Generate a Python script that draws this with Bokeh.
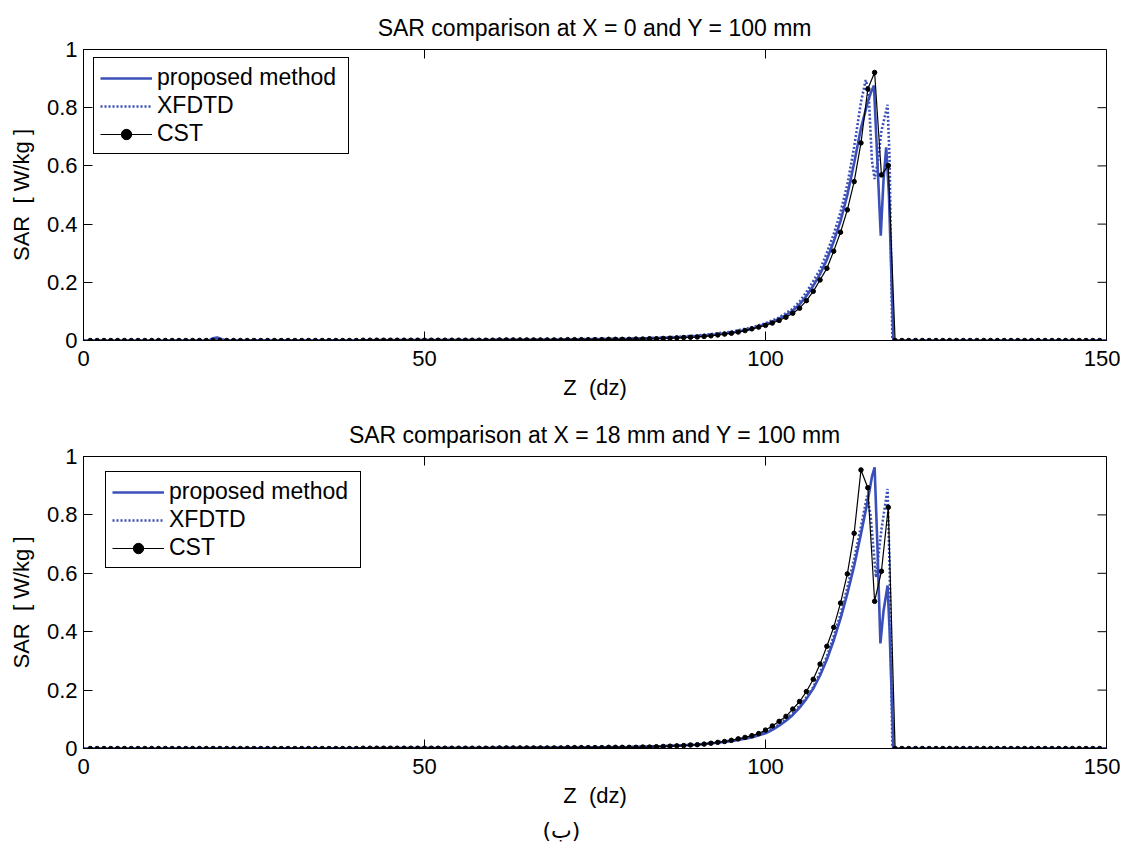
from bokeh.plotting import figure
from bokeh.models import (FixedTicker, NumeralTickFormatter, Legend,
                          LegendItem, Title, Range1d)
from bokeh.layouts import column
from bokeh.embed import file_html
from bokeh.resources import INLINE

# ---------------- data ----------------
x_ticks = [0, 50, 100, 150]
y_ticks = [0, 0.2, 0.4, 0.6, 0.8, 1]
x_lim = [0, 150]
y_lim = [0, 1]

titles = ["SAR comparison at X = 0 and Y = 100 mm",
          "SAR comparison at X = 18 mm and Y = 100 mm"]
x_label = "Z\u00a0\u00a0(dz)"
y_label = "SAR\u00a0\u00a0[ W/kg ]"
caption = "(ب)"
series_names = ["proposed method", "XFDTD", "CST"]

# CST sampled at every cell z = 1..149
cst_z = list(range(1, 150))

cst_top = [
    0, 0, 0, 0, 0, 0, 0, 0, 0, 0,
    0, 0, 0, 0, 0, 0, 0, 0, 0, 0,
    0, 0, 0, 0, 0, 0, 0, 0, 0, 0,
    0, 0, 0, 0, 0, 0, 0, 0, 0, 0,
    0.001, 0.001, 0.001, 0.001, 0.001, 0.001, 0.001, 0.001, 0.001, 0.001,
    0.001, 0.001, 0.001, 0.001, 0.001, 0.001, 0.001, 0.001, 0.001, 0.001,
    0.002, 0.002, 0.002, 0.002, 0.002, 0.002, 0.002, 0.002, 0.002, 0.002,
    0.003, 0.003, 0.003, 0.003, 0.003, 0.003, 0.004, 0.004, 0.004, 0.004,
    0.005, 0.005, 0.006, 0.006,
    0.007, 0.008, 0.009, 0.010, 0.011, 0.012, 0.014, 0.016, 0.019, 0.022,
    0.025, 0.029, 0.034, 0.040, 0.046, 0.052, 0.060, 0.069, 0.080, 0.094,
    0.111, 0.137, 0.169, 0.208, 0.248, 0.307, 0.372, 0.449, 0.546, 0.679,
    0.864, 0.921, 0.569, 0.601,
    0, 0, 0, 0, 0, 0, 0, 0, 0, 0,
    0, 0, 0, 0, 0, 0, 0, 0, 0, 0,
    0, 0, 0, 0, 0, 0, 0, 0, 0, 0, 0,
]

cst_bot = [
    0, 0, 0, 0, 0, 0, 0, 0, 0, 0,
    0, 0, 0, 0, 0, 0, 0, 0, 0, 0,
    0, 0, 0, 0, 0, 0, 0, 0, 0, 0,
    0, 0, 0, 0, 0, 0, 0, 0, 0, 0,
    0.001, 0.001, 0.001, 0.001, 0.001, 0.001, 0.001, 0.001, 0.001, 0.001,
    0.001, 0.001, 0.001, 0.001, 0.001, 0.001, 0.001, 0.001, 0.001, 0.001,
    0.002, 0.002, 0.002, 0.002, 0.002, 0.002, 0.002, 0.002, 0.002, 0.002,
    0.003, 0.003, 0.003, 0.003, 0.003, 0.003, 0.004, 0.004, 0.004, 0.004,
    0.004, 0.005, 0.005, 0.006,
    0.007, 0.008, 0.009, 0.010, 0.012, 0.013, 0.015, 0.018, 0.021, 0.024,
    0.028, 0.033, 0.038, 0.044, 0.051, 0.063, 0.077, 0.093, 0.110, 0.135,
    0.161, 0.195, 0.237, 0.289, 0.350, 0.415, 0.498, 0.598, 0.737, 0.954,
    0.893, 0.504, 0.607, 0.826,
    0, 0, 0, 0, 0, 0, 0, 0, 0, 0,
    0, 0, 0, 0, 0, 0, 0, 0, 0, 0,
    0, 0, 0, 0, 0, 0, 0, 0, 0, 0, 0,
]

# proposed method (fine grid) - top panel
prop_top_z = [0, 18.4, 19.0, 19.6, 20.3, 21.0, 40, 60, 70, 80, 85, 88, 90, 92, 94,
              96, 98, 100, 101, 102, 103, 104, 105, 106, 107, 108, 109, 110, 111,
              112, 113, 114, 115, 115.5, 115.9, 116.4, 116.9, 117.3, 117.7, 118.1,
              118.75, 150]
prop_top_v = [0, 0, 0.008, 0.010, 0.004, 0.001, 0.001, 0.002, 0.003, 0.006, 0.009,
              0.012, 0.015, 0.019, 0.024, 0.031, 0.040, 0.056, 0.064, 0.075, 0.087,
              0.103, 0.124, 0.153, 0.188, 0.228, 0.278, 0.340, 0.410, 0.500, 0.610,
              0.730, 0.820, 0.855, 0.876, 0.620, 0.360, 0.550, 0.664, 0.500, 0.0, 0.0]

# XFDTD - top panel
xfd_top_z = [0, 40, 60, 80, 85, 90, 95, 98, 100, 102, 104, 105, 106, 107, 108, 109,
             110, 111, 112, 113, 114, 114.7, 115.1, 115.6, 116.0, 116.5, 117.0,
             117.9, 118.2, 118.6, 150]
xfd_top_v = [0, 0.001, 0.002, 0.006, 0.010, 0.017, 0.030, 0.045, 0.059, 0.079, 0.109,
             0.134, 0.166, 0.204, 0.244, 0.301, 0.365, 0.441, 0.536, 0.665, 0.820,
             0.895, 0.860, 0.620, 0.555, 0.620, 0.720, 0.810, 0.620, 0.0, 0.0]

# proposed method - bottom panel
prop_bot_z = [0, 40, 60, 80, 85, 90, 95, 98, 100, 101, 102, 103, 104, 105, 106, 107,
              108, 109, 110, 111, 112, 113, 114, 115, 115.6, 116.0, 116.4, 116.85,
              117.3, 117.9, 118.2, 118.75, 150]
prop_bot_v = [0, 0.001, 0.002, 0.005, 0.008, 0.013, 0.025, 0.038, 0.052, 0.064, 0.078,
              0.095, 0.115, 0.140, 0.170, 0.205, 0.250, 0.305, 0.370, 0.445, 0.530,
              0.625, 0.735, 0.850, 0.930, 0.963, 0.700, 0.360, 0.470, 0.558, 0.400,
              0.0, 0.0]

# XFDTD - bottom panel
xfd_bot_z = [0, 40, 60, 80, 85, 90, 95, 98, 100, 102, 104, 106, 107, 108, 109, 110,
             111, 112, 113, 114, 114.9, 115.4, 116.2, 117.0, 117.9, 118.2, 118.6, 150]
xfd_bot_v = [0, 0.001, 0.002, 0.005, 0.008, 0.014, 0.027, 0.041, 0.056, 0.082, 0.120,
             0.175, 0.210, 0.260, 0.315, 0.385, 0.460, 0.550, 0.650, 0.760, 0.866,
             0.800, 0.586, 0.750, 0.889, 0.620, 0.0, 0.0]

# ---------------- styling ----------------
FONT = "Liberation Sans"
BLUE = "#3b4fb8"
FS = "22px"
TICK_PX = 9


def make_fig(title, height, b_top, b_bottom, frame_h, pz, pv, xz, xv, cv, legend_xy):
    p = figure(width=1120, height=height, output_backend="svg", toolbar_location=None,
               x_range=Range1d(*x_lim), y_range=Range1d(*y_lim),
               min_border_left=83, min_border_right=14,
               min_border_top=b_top, min_border_bottom=b_bottom)
    p.title.text = title
    p.title.align = "center"
    p.title.text_font = FONT
    p.title.text_font_size = "23px"
    p.title.text_font_style = "normal"
    p.title.text_color = "black"
    p.title.standoff = 17
    p.xgrid.visible = False
    p.ygrid.visible = False
    p.outline_line_color = "black"
    p.outline_line_alpha = 1
    p.outline_line_width = 1
    p.background_fill_color = "white"
    p.border_fill_color = "white"

    # mirrored ticks on top and right borders (MATLAB "box on")
    dy = TICK_PX / frame_h * (y_lim[1] - y_lim[0])
    dx = TICK_PX / 1023 * (x_lim[1] - x_lim[0])
    p.segment(x0=x_ticks, y0=[y_lim[1]] * len(x_ticks), x1=x_ticks,
              y1=[y_lim[1] - dy] * len(x_ticks), line_color="black", line_width=1)
    p.segment(x0=[x_lim[1]] * len(y_ticks), y0=y_ticks,
              x1=[x_lim[1] - dx] * len(y_ticks), y1=y_ticks,
              line_color="black", line_width=1)

    r1 = p.line(pz, pv, line_color=BLUE, line_width=2.6)
    r2 = p.line(xz, xv, line_color=BLUE, line_width=2.6, line_dash="2 2")
    r3 = p.line(cst_z, cv, line_color="black", line_width=1.2)
    r4 = p.scatter(cst_z, cv, marker="circle", size=4.5, fill_color="black",
                   line_color="black")

    for ax in (p.xaxis[0], p.yaxis[0]):
        ax.major_tick_in = TICK_PX
        ax.major_tick_out = 0
        ax.minor_tick_in = 0
        ax.minor_tick_out = 0
        ax.axis_line_color = "black"
        ax.major_tick_line_color = "black"
        ax.major_label_text_font = FONT
        ax.major_label_text_font_size = FS
        ax.major_label_text_color = "black"
        ax.axis_label_text_font = FONT
        ax.axis_label_text_font_size = FS
        ax.axis_label_text_font_style = "normal"
        ax.axis_label_text_color = "black"
    p.xaxis[0].ticker = FixedTicker(ticks=x_ticks)
    p.yaxis[0].ticker = FixedTicker(ticks=y_ticks)
    p.yaxis[0].formatter = NumeralTickFormatter(format="0.[0]")
    p.xaxis[0].axis_label = x_label
    p.yaxis[0].axis_label = y_label
    p.xaxis[0].major_label_standoff = 10
    p.xaxis[0].axis_label_standoff = 6
    p.yaxis[0].major_label_standoff = 6
    p.yaxis[0].axis_label_standoff = 10

    legend = Legend(items=[LegendItem(label=series_names[0], renderers=[r1]),
                           LegendItem(label=series_names[1], renderers=[r2]),
                           LegendItem(label=series_names[2], renderers=[r3, r4])],
                    location=legend_xy)
    legend.label_text_font = FONT
    legend.label_text_font_size = "23px"
    legend.label_text_color = "black"
    legend.border_line_color = "black"
    legend.border_line_width = 1
    legend.border_line_alpha = 1
    legend.background_fill_alpha = 1
    legend.glyph_width = 52
    legend.glyph_height = 26
    legend.label_height = 26
    legend.label_width = 185
    legend.label_standoff = 5
    legend.padding = 6
    legend.spacing = 1
    legend.margin = 0
    p.add_layout(legend)
    return p


p1 = make_fig(titles[0], 409, 49, 69, 291, prop_top_z, prop_top_v, xfd_top_z, xfd_top_v,
              cst_top, (10, 186))
p2 = make_fig(titles[1], 439, 47, 100, 292, prop_bot_z, prop_bot_v, xfd_bot_z, xfd_bot_v,
              cst_bot, (22, 180))
p2.add_layout(Title(text=caption, align="left", text_font="DejaVu Sans",
                    text_font_size="22px", text_font_style="normal", text_color="black",
                    offset=459, standoff=10), "below")

layout = column(p1, p2, spacing=0)
open("out.html", "w").write(file_html(layout, INLINE))
